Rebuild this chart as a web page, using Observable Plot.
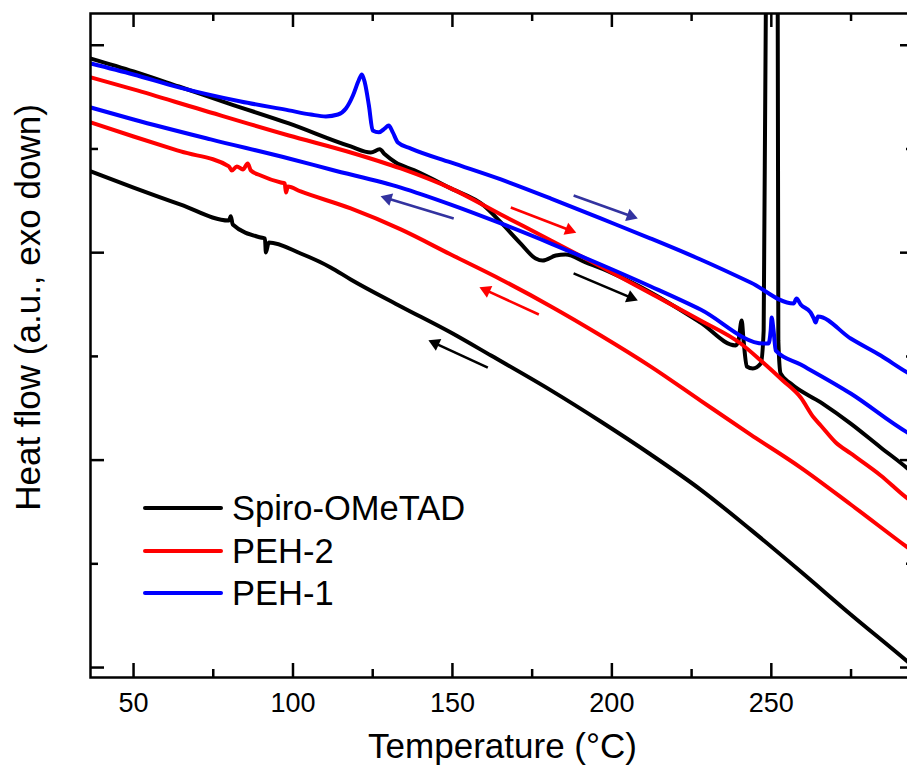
<!DOCTYPE html>
<html><head><meta charset="utf-8">
<script src="https://cdn.jsdelivr.net/npm/d3@7"></script>
<script src="https://cdn.jsdelivr.net/npm/@observablehq/plot@0.6"></script>
<style>
html,body{margin:0;padding:0;background:#fff;overflow:hidden;width:907px;height:774px}
#wrap{position:relative;width:914px;height:774px}
#legend{position:absolute;left:143px;top:0;font-family:"Liberation Sans",Arial,sans-serif;font-size:34.5px;color:#000}
.row{position:absolute;left:0;height:40px;display:flex;align-items:center;white-space:nowrap}
.sw{width:80px;height:4.5px;border-radius:2px;margin-right:9px}
</style></head>
<body><div id="wrap"><div id="legend"></div></div>
<script>
// ---- data (temperature °C, heat flow a.u.) ----
const spiroHeatT = [36.6,50,64.2,79.9,98.7,118.1,124.4,127.2,128.8,132.2,137.9,149.5,159.8,165.2,171.4,176.1,178.3,182.4,185.5,191.8,199.6,212.2,227.8,238.8,239.7,240.7,241.3,242.3,244.2,246.7,247.6,248.3,249.2,251.4,252.0,252.2,252.9,256.1,265.5,274.9,284.3,292.7,294.9];
const spiroHeatH = [2.936,2.874,2.801,2.719,2.623,2.512,2.483,2.498,2.474,2.435,2.398,2.310,2.228,2.146,2.044,1.972,1.962,1.986,1.991,1.953,1.905,1.808,1.663,1.553,1.577,1.673,1.577,1.451,1.442,1.466,1.625,3.216,3.409,3.409,3.216,1.577,1.418,1.369,1.278,1.176,1.061,0.960,0.931];

const spiroCoolT = [36.6,50,64.8,79.9,80.5,81.1,89.9,91.2,91.5,92.4,102.4,111.8,118.1,133.8,149.5,162.1,180.9,196.5,212.2,227.8,243.5,259.2,274.9,292.7,294.9];
const spiroCoolH = [2.392,2.314,2.232,2.155,2.175,2.136,2.073,2.068,2.001,2.049,1.996,1.929,1.871,1.741,1.615,1.504,1.336,1.186,1.027,0.858,0.665,0.463,0.256,0.029,0.000];

const peh2HeatT = [36.6,50,71.1,98.7,118.1,133.8,149.5,165.2,180.9,196.5,212.2,227.8,240.4,246.7,253.6,259.2,263.3,265.5,270.2,274.9,284.3,292.7,294.9];
const peh2HeatH = [2.845,2.787,2.690,2.565,2.483,2.406,2.310,2.184,2.059,1.933,1.803,1.673,1.562,1.480,1.384,1.302,1.205,1.167,1.085,1.032,0.926,0.815,0.791];

const peh2CoolT = [36.6,50,64.8,79.9,80.8,82.4,84.3,85.8,86.8,89.9,96.2,97.4,97.8,98.4,102.4,118.1,133.8,149.5,165.2,180.9,196.5,212.2,227.8,243.5,259.2,274.9,292.7,294.9];
const peh2CoolH = [2.628,2.560,2.488,2.416,2.396,2.416,2.401,2.430,2.396,2.372,2.338,2.334,2.290,2.319,2.295,2.213,2.112,1.991,1.871,1.741,1.601,1.451,1.287,1.123,0.964,0.786,0.579,0.554];

const peh1HeatT = [36.6,50,64.2,83.6,98.7,105.6,110.3,114.1,116.6,118.8,120.6,121.6,122.5,123.8,125.0,126.9,128.8,130.0,131.3,132.9,137.0,149.5,165.2,180.9,196.5,212.2,227.8,243.5,257.0,257.9,259.2,262.3,263.3,263.9,264.6,274.9,284.3,292.7,294.9];
const peh1HeatH = [2.912,2.859,2.797,2.729,2.686,2.666,2.657,2.666,2.695,2.758,2.830,2.859,2.821,2.710,2.589,2.580,2.599,2.613,2.580,2.531,2.502,2.435,2.353,2.261,2.165,2.068,1.967,1.856,1.755,1.779,1.750,1.712,1.683,1.663,1.692,1.586,1.504,1.422,1.403];

const peh1CoolT = [36.6,50,74.2,98.7,111.8,133.8,149.5,165.2,180.9,196.5,212.2,227.8,247.6,249.1,249.8,250.1,250.7,251.4,259.2,274.9,292.7,294.9];
const peh1CoolH = [2.700,2.642,2.546,2.454,2.401,2.314,2.232,2.141,2.044,1.943,1.837,1.726,1.562,1.562,1.625,1.688,1.625,1.528,1.461,1.321,1.133,1.114];

// direction arrows: start (T, H) -> end (T, H)
const arrowColors = ["#3333a0","#3333a0","#ff0000","#ff0000","#000000","#000000"];
const arrowT1 = [188.0,150.4,168.3,177.1,188.0,161.1];
const arrowH1 = [2.276,2.165,2.218,1.702,1.900,1.446];
const arrowT2 = [208.0,127.6,188.7,158.6,208.0,142.6];
const arrowH2 = [2.165,2.271,2.097,1.832,1.770,1.577];

const xMajor = [50,100,150,200,250];
const xMinor = [75,125,175,225,275];
const yMajor = [0,1,2,3];
const yMinor = [0.5,1.5,2.5];

const legendNames = ["Spiro-OMeTAD","PEH-2","PEH-1"];
const legendColors = ["#000000","#ff0000","#0000ff"];

// ---- build ----
const xDom = [36.5, 294.9], yDom = [-0.048, 3.153];
const kx = (xDom[1]-xDom[0])/824, ky = (yDom[1]-yDom[0])/664; // data units per pixel
const series = [
  {T: spiroHeatT, H: spiroHeatH, c: "#000000"},
  {T: spiroCoolT, H: spiroCoolH, c: "#000000"},
  {T: peh2HeatT, H: peh2HeatH, c: "#ff0000"},
  {T: peh2CoolT, H: peh2CoolH, c: "#ff0000"},
  {T: peh1HeatT, H: peh1HeatH, c: "#0000ff"},
  {T: peh1CoolT, H: peh1CoolH, c: "#0000ff"}
];
const lineMarks = series.map(s => Plot.line(s.T.map((t,i)=>({T:t,H:s.H[i]})),
  {x:"T", y:"H", stroke:s.c, strokeWidth:4, clip:true, curve:"monotone-x", strokeLinejoin:"round"}));

const arrowMarks = arrowT1.flatMap((t,i)=>{
  const dxp = (arrowT2[i]-t)/kx, dyp = -(arrowH2[i]-arrowH1[i])/ky;
  const L = Math.hypot(dxp, dyp), ux = dxp/L, uy = dyp/L;
  const back = 7;
  const cx = arrowT2[i] - ux*back*kx, cy = arrowH2[i] + uy*back*ky;
  const ang = Math.atan2(dxp, -dyp)*180/Math.PI;
  const a = {x1:t, y1:arrowH1[i], x2:cx, y2:cy};
  return [
    Plot.link([a], {x1:"x1", y1:"y1", x2:"x2", y2:"y2", stroke:arrowColors[i], strokeWidth:2.6}),
    Plot.dot([a], {x:"x2", y:"y2", symbol:"triangle", r:4.8, fill:arrowColors[i], stroke:"none", rotate:ang})
  ];
});

const tick = {stroke:"#000", strokeWidth:2.5};
const plot = Plot.plot({
  width: 914, height: 774,
  marginLeft: 90, marginRight: 0, marginTop: 13, marginBottom: 97,
  x: {domain: xDom},
  y: {domain: yDom},
  style: {fontFamily: '"Liberation Sans", Arial, sans-serif', color: "#000", background: "#fff"},
  marks: [
    ...lineMarks,
    ...arrowMarks,
    Plot.ruleX(xMajor, {x: d=>d, y1: yDom[0], y2: yDom[0]+14*ky, ...tick}),
    Plot.ruleX(xMinor, {x: d=>d, y1: yDom[0], y2: yDom[0]+8*ky, ...tick}),
    Plot.ruleX(xMajor, {x: d=>d, y1: yDom[1], y2: yDom[1]-14*ky, ...tick}),
    Plot.ruleX(xMinor, {x: d=>d, y1: yDom[1], y2: yDom[1]-8*ky, ...tick}),
    Plot.ruleY(yMajor, {y: d=>d, x1: xDom[0], x2: xDom[0]+14*kx, ...tick}),
    Plot.ruleY(yMinor, {y: d=>d, x1: xDom[0], x2: xDom[0]+8*kx, ...tick}),
    Plot.ruleY(yMajor, {y: d=>d, x1: xDom[1], x2: xDom[1]-14*kx, ...tick}),
    Plot.ruleY(yMinor, {y: d=>d, x1: xDom[1], x2: xDom[1]-8*kx, ...tick}),
    Plot.frame({stroke:"#000", strokeWidth:2.5}),
    Plot.axisX(xMajor, {tickSize:0, tickPadding:15, fontSize:27, label:null}),
    Plot.axisY({ticks:[], tickSize:0, label:null}),
    Plot.text(["Temperature (°C)"], {frameAnchor:"bottom", dy:80, fontSize:35}),
    Plot.text(["Heat flow (a.u., exo down)"], {frameAnchor:"left", textAnchor:"middle", dx:-62, dy:-38, rotate:-90, fontSize:35})
  ]
});
const wrap = document.getElementById("wrap");
wrap.insertBefore(plot, wrap.firstChild);
const lg = document.getElementById("legend");
const centers = [508, 551, 593];
legendNames.forEach((n,i)=>{
  const r = document.createElement("div");
  r.className = "row";
  r.style.top = (centers[i]-20)+"px";
  r.innerHTML = `<div class="sw" style="background:${legendColors[i]}"></div><span>${n}</span>`;
  lg.appendChild(r);
});
</script>
</body></html>
